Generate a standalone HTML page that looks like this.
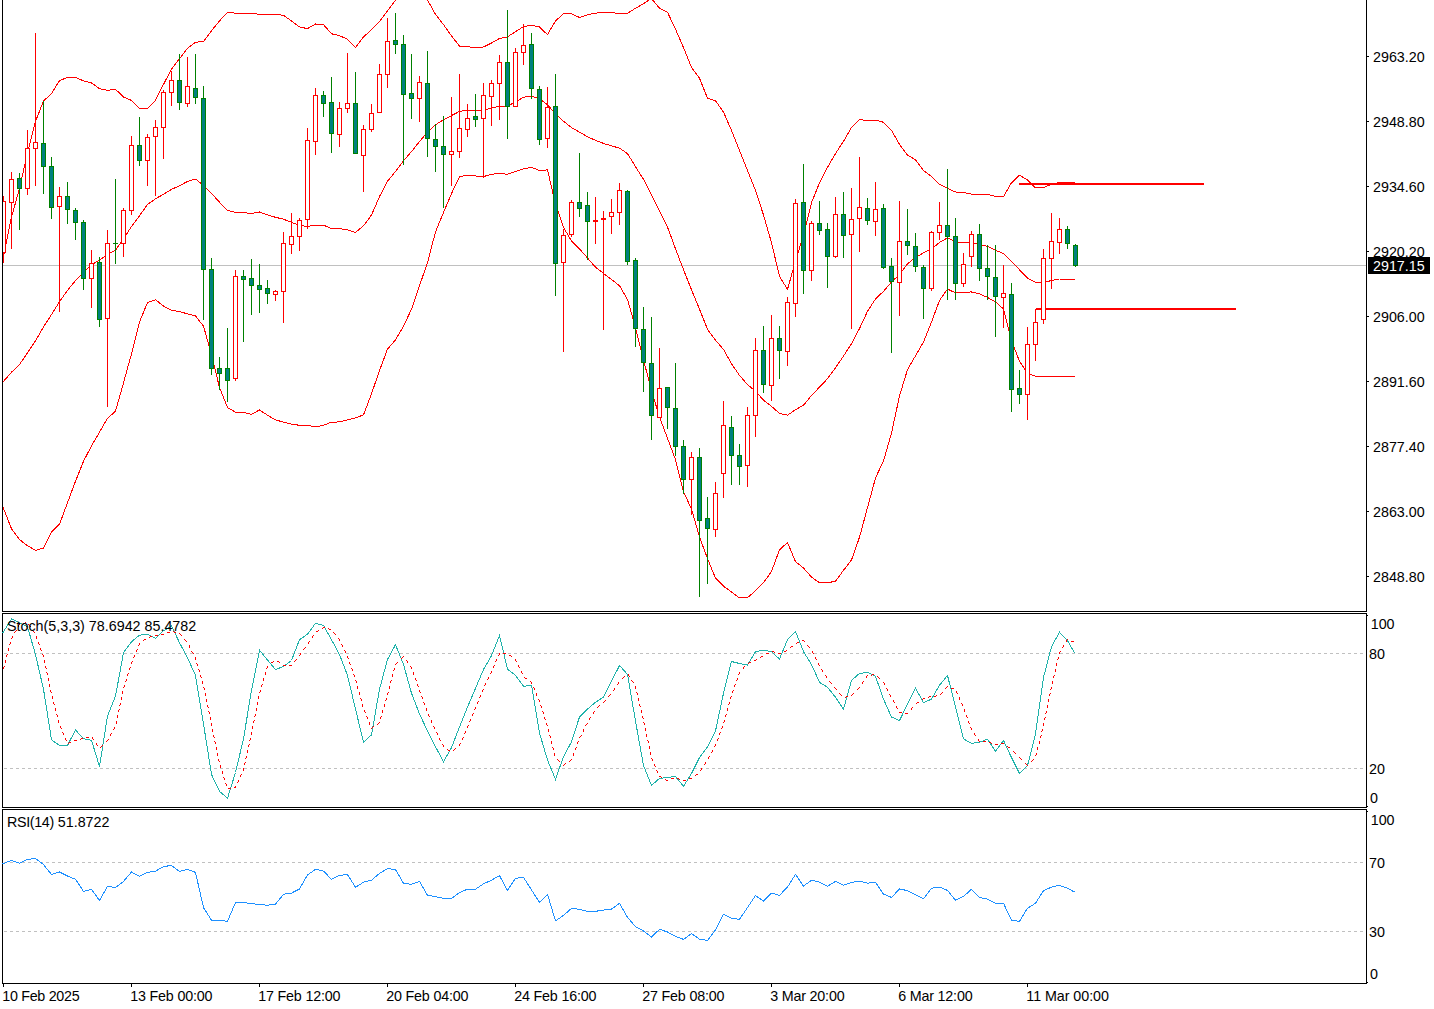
<!DOCTYPE html>
<html><head><meta charset="utf-8"><title>Chart</title>
<style>html,body{margin:0;padding:0;background:#fff;}body{width:1434px;height:1009px;overflow:hidden;position:relative;font-family:"Liberation Sans",sans-serif;}svg{position:absolute;left:0;top:0;display:block}text{font-family:"Liberation Sans",sans-serif;font-size:14.3px;fill:#000}.ax{font-size:14.3px}</style></head><body>
<svg width="1434" height="1009" viewBox="0 0 1434 1009">
<rect x="0" y="0" width="1434" height="1009" fill="#fff"/>
<g shape-rendering="crispEdges" fill="#000">
<rect x="2" y="0" width="1" height="612"/>
<rect x="2" y="613" width="1" height="195"/>
<rect x="2" y="809" width="1" height="175"/>
<rect x="1366" y="0" width="1" height="612"/>
<rect x="1366" y="613" width="1" height="195"/>
<rect x="1366" y="809" width="1" height="175"/>
<rect x="2" y="611" width="1365" height="1"/>
<rect x="2" y="613" width="1365" height="1"/>
<rect x="2" y="807" width="1365" height="1"/>
<rect x="2" y="809" width="1365" height="1"/>
<rect x="2" y="983" width="1365" height="1"/>
<rect x="1367" y="56" width="2" height="1"/>
<rect x="1367" y="121" width="2" height="1"/>
<rect x="1367" y="186" width="2" height="1"/>
<rect x="1367" y="251" width="2" height="1"/>
<rect x="1367" y="316" width="2" height="1"/>
<rect x="1367" y="381" width="2" height="1"/>
<rect x="1367" y="446" width="2" height="1"/>
<rect x="1367" y="511" width="2" height="1"/>
<rect x="1367" y="576" width="2" height="1"/>
<rect x="1367" y="615" width="1" height="1"/>
<rect x="1367" y="806" width="1" height="1"/>
<rect x="1367" y="811" width="1" height="1"/>
<rect x="1367" y="982" width="1" height="1"/>
<rect x="3" y="984" width="1" height="3"/>
<rect x="131" y="984" width="1" height="3"/>
<rect x="259" y="984" width="1" height="3"/>
<rect x="387" y="984" width="1" height="3"/>
<rect x="515" y="984" width="1" height="3"/>
<rect x="643" y="984" width="1" height="3"/>
<rect x="771" y="984" width="1" height="3"/>
<rect x="899" y="984" width="1" height="3"/>
<rect x="1027" y="984" width="1" height="3"/>
</g>
<g shape-rendering="crispEdges">
<rect x="3" y="265" width="1363" height="1" fill="#c0c0c0"/>
<line x1="4" y1="653.5" x2="1366" y2="653.5" stroke="#c0c0c0" stroke-width="1" stroke-dasharray="3 3"/>
<line x1="4" y1="768.5" x2="1366" y2="768.5" stroke="#c0c0c0" stroke-width="1" stroke-dasharray="3 3"/>
<line x1="4" y1="862.5" x2="1366" y2="862.5" stroke="#c0c0c0" stroke-width="1" stroke-dasharray="3 3"/>
<line x1="4" y1="931.5" x2="1366" y2="931.5" stroke="#c0c0c0" stroke-width="1" stroke-dasharray="3 3"/>
</g>
<defs><clipPath id="cp"><rect x="3" y="0" width="1363" height="611"/></clipPath></defs>
<g clip-path="url(#cp)">
<g shape-rendering="crispEdges">
<polyline points="2.5,260.9 11.5,217.0 19.5,188.5 27.5,152.5 35.5,121.4 43.5,101.1 51.5,93.5 59.5,80.6 67.5,77.4 75.5,77.4 83.5,80.9 91.5,83.0 99.5,88.6 107.5,90.4 115.5,89.3 123.5,97.0 131.5,100.4 139.5,108.4 147.5,108.4 155.5,100.2 163.5,84.4 171.5,69.1 179.5,58.7 187.5,48.2 195.5,42.3 203.5,41.5 211.5,30.7 219.5,20.9 227.5,12.3 235.5,13.2 243.5,13.5 251.5,13.8 259.5,14.1 267.5,14.1 275.5,14.1 283.5,15.4 291.5,20.9 299.5,27.0 307.5,28.6 315.5,24.0 323.5,24.6 331.5,33.8 339.5,35.6 347.5,39.3 355.5,47.6 363.5,36.9 371.5,29.8 379.5,21.5 387.5,10.8 395.5,0.0 403.5,-12.0 411.5,-18.0 419.5,-12.0 427.5,0.0 435.5,14.4 443.5,24.6 451.5,35.9 459.5,46.1 467.5,46.7 475.5,47.6 483.5,47.0 491.5,43.0 499.5,38.4 507.5,36.9 515.5,31.6 523.5,26.7 531.5,25.2 539.5,27.0 547.5,34.7 555.5,20.9 563.5,13.8 571.5,13.8 579.5,17.5 587.5,14.7 595.5,13.2 603.5,12.3 611.5,12.3 619.5,13.8 627.5,13.2 635.5,8.3 643.5,3.7 651.5,-1.5 659.5,8.2 667.5,12.3 675.5,29.2 683.5,47.6 691.5,67.6 699.5,78.3 707.5,98.3 715.5,100.7 723.5,112.1 731.5,130.5 739.5,150.5 747.5,170.5 755.5,190.4 763.5,215.0 771.5,242.7 779.5,276.4 787.5,289.3 795.5,261.1 803.5,235.0 811.5,202.7 819.5,182.8 827.5,167.4 835.5,153.6 843.5,141.3 851.5,127.5 859.5,119.2 867.5,121.0 875.5,120.1 883.5,122.3 891.5,130.5 899.5,144.4 907.5,155.1 915.5,159.7 923.5,170.5 931.5,176.6 939.5,184.3 947.5,188.3 955.5,192.0 963.5,192.6 971.5,194.1 979.5,195.0 987.5,194.4 995.5,196.3 1003.5,196.6 1011.5,182.8 1019.5,175.1 1027.5,180.0 1035.5,187.8 1043.5,187.5 1051.5,184.2 1059.5,182.6 1067.5,182.5 1074.5,182.5" fill="none" stroke="#ff0000" stroke-width="1" />
<polyline points="2.5,382.5 11.5,372.2 19.5,364.5 27.5,352.8 35.5,340.9 43.5,327.0 51.5,314.5 59.5,301.7 67.5,290.4 75.5,280.6 83.5,272.5 91.5,264.6 99.5,260.2 107.5,254.5 115.5,250.1 123.5,239.0 131.5,226.4 139.5,215.7 147.5,204.6 155.5,198.7 163.5,194.3 171.5,189.3 179.5,185.8 187.5,181.4 195.5,179.1 203.5,185.2 211.5,193.4 219.5,202.2 227.5,210.4 235.5,212.3 243.5,212.6 251.5,213.5 259.5,212.0 267.5,214.8 275.5,217.3 283.5,219.2 291.5,222.3 299.5,225.5 307.5,226.4 315.5,225.2 323.5,225.2 331.5,228.6 339.5,228.6 347.5,229.9 355.5,232.5 363.5,225.8 371.5,215.0 379.5,196.6 387.5,181.2 395.5,171.5 403.5,160.8 411.5,151.6 419.5,141.5 427.5,132.3 435.5,124.8 443.5,119.8 451.5,115.6 459.5,111.4 467.5,110.0 475.5,111.0 483.5,110.5 491.5,108.0 499.5,106.4 507.5,105.9 515.5,102.2 523.5,97.2 531.5,96.3 539.5,98.8 547.5,104.7 555.5,113.9 563.5,121.3 571.5,127.5 579.5,132.1 587.5,136.7 595.5,140.4 603.5,143.4 611.5,145.9 619.5,148.1 627.5,153.6 635.5,166.7 643.5,179.3 651.5,195.2 659.5,211.1 667.5,227.0 675.5,248.8 683.5,269.7 691.5,289.8 699.5,309.2 707.5,329.3 715.5,340.2 723.5,349.4 731.5,363.7 739.5,375.4 747.5,384.6 755.5,391.3 763.5,400.2 771.5,406.4 779.5,413.4 787.5,415.2 795.5,409.7 803.5,405.2 811.5,395.5 819.5,387.1 827.5,378.7 835.5,367.8 843.5,356.1 851.5,343.6 859.5,328.5 867.5,311.3 875.5,299.0 883.5,291.3 891.5,282.1 899.5,274.4 907.5,263.7 915.5,257.5 923.5,252.9 931.5,249.0 939.5,242.5 947.5,237.8 955.5,241.9 963.5,242.2 971.5,242.2 979.5,244.7 987.5,246.4 995.5,250.3 1003.5,253.6 1011.5,261.4 1019.5,269.8 1027.5,278.2 1035.5,282.4 1043.5,282.6 1051.5,280.5 1059.5,279.0 1067.5,279.0 1074.5,279.0" fill="none" stroke="#ff0000" stroke-width="1" />
<polyline points="2.5,505.7 11.5,528.8 19.5,539.6 27.5,545.7 35.5,550.3 43.5,548.2 51.5,531.9 59.5,524.2 67.5,502.7 75.5,481.2 83.5,461.3 91.5,445.9 99.5,432.1 107.5,418.3 115.5,411.2 123.5,382.9 131.5,353.8 139.5,322.0 147.5,302.5 155.5,299.7 163.5,306.1 171.5,310.1 179.5,311.7 187.5,313.8 195.5,316.0 203.5,326.1 211.5,355.0 219.5,387.5 227.5,407.5 235.5,412.1 243.5,412.4 251.5,414.3 259.5,410.0 267.5,415.2 275.5,419.8 283.5,422.2 291.5,424.1 299.5,425.3 307.5,425.3 315.5,426.9 323.5,425.3 331.5,422.2 339.5,421.9 347.5,419.8 355.5,417.8 363.5,414.9 371.5,393.7 379.5,370.6 387.5,349.1 395.5,339.9 403.5,326.1 411.5,309.2 419.5,285.7 427.5,262.6 435.5,231.9 443.5,212.6 451.5,193.5 459.5,176.6 467.5,175.1 475.5,176.0 483.5,176.6 491.5,174.2 499.5,173.5 507.5,174.2 515.5,171.4 523.5,168.9 531.5,167.4 539.5,170.5 547.5,169.9 555.5,204.3 563.5,227.3 571.5,241.1 579.5,248.8 587.5,258.0 595.5,267.2 603.5,273.4 611.5,279.5 619.5,285.7 627.5,299.5 635.5,327.6 643.5,359.9 651.5,390.6 659.5,417.0 667.5,438.2 675.5,459.7 683.5,491.8 691.5,509.0 699.5,537.0 707.5,558.5 715.5,578.2 723.5,586.2 731.5,591.9 739.5,598.0 747.5,597.6 755.5,590.8 763.5,582.8 771.5,571.4 779.5,549.8 787.5,542.5 795.5,561.6 803.5,568.0 811.5,577.1 819.5,582.8 827.5,582.8 835.5,581.2 843.5,570.3 851.5,560.0 859.5,537.2 867.5,507.6 875.5,478.0 883.5,460.9 891.5,433.0 899.5,396.0 907.5,369.6 915.5,355.8 923.5,342.0 931.5,322.0 939.5,300.5 947.5,289.0 955.5,292.9 963.5,292.1 971.5,292.0 979.5,293.8 987.5,297.4 995.5,301.9 1003.5,309.0 1011.5,341.0 1019.5,361.2 1027.5,373.4 1035.5,376.2 1043.5,376.2 1051.5,376.2 1059.5,376.2 1067.5,376.2 1074.5,376.2" fill="none" stroke="#ff0000" stroke-width="1" />
</g>
<g shape-rendering="crispEdges" fill="#ff0000">
<rect x="1019" y="183" width="185" height="2"/>
<rect x="1036" y="308" width="200" height="2"/>
</g>
<g shape-rendering="crispEdges">
<rect x="3" y="196" width="1" height="67" fill="#ff0000"/>
<rect x="1" y="201" width="5" height="52" fill="#ff0000"/>
<rect x="2" y="202" width="3" height="50" fill="#fff"/>
<rect x="11" y="172" width="1" height="77" fill="#ff0000"/>
<rect x="9" y="179" width="5" height="24" fill="#ff0000"/>
<rect x="10" y="180" width="3" height="22" fill="#fff"/>
<rect x="19" y="173" width="1" height="57" fill="#008000"/>
<rect x="17" y="178" width="5" height="11" fill="#008000"/>
<rect x="18" y="179" width="3" height="9" fill="#008080"/>
<rect x="27" y="130" width="1" height="65" fill="#ff0000"/>
<rect x="25" y="148" width="5" height="41" fill="#ff0000"/>
<rect x="26" y="149" width="3" height="39" fill="#fff"/>
<rect x="35" y="33" width="1" height="153" fill="#ff0000"/>
<rect x="33" y="142" width="5" height="7" fill="#ff0000"/>
<rect x="34" y="143" width="3" height="5" fill="#fff"/>
<rect x="43" y="101" width="1" height="93" fill="#008000"/>
<rect x="41" y="143" width="5" height="24" fill="#008000"/>
<rect x="42" y="144" width="3" height="22" fill="#008080"/>
<rect x="51" y="157" width="1" height="62" fill="#008000"/>
<rect x="49" y="166" width="5" height="42" fill="#008000"/>
<rect x="50" y="167" width="3" height="40" fill="#008080"/>
<rect x="59" y="187" width="1" height="125" fill="#ff0000"/>
<rect x="57" y="196" width="5" height="11" fill="#ff0000"/>
<rect x="58" y="197" width="3" height="9" fill="#fff"/>
<rect x="67" y="182" width="1" height="42" fill="#008000"/>
<rect x="65" y="196" width="5" height="14" fill="#008000"/>
<rect x="66" y="197" width="3" height="12" fill="#008080"/>
<rect x="75" y="208" width="1" height="32" fill="#008000"/>
<rect x="73" y="210" width="5" height="13" fill="#008000"/>
<rect x="74" y="211" width="3" height="11" fill="#008080"/>
<rect x="83" y="220" width="1" height="70" fill="#008000"/>
<rect x="81" y="222" width="5" height="57" fill="#008000"/>
<rect x="82" y="223" width="3" height="55" fill="#008080"/>
<rect x="91" y="250" width="1" height="58" fill="#ff0000"/>
<rect x="89" y="263" width="5" height="16" fill="#ff0000"/>
<rect x="90" y="264" width="3" height="14" fill="#fff"/>
<rect x="99" y="257" width="1" height="70" fill="#008000"/>
<rect x="97" y="262" width="5" height="58" fill="#008000"/>
<rect x="98" y="263" width="3" height="56" fill="#008080"/>
<rect x="107" y="230" width="1" height="177" fill="#ff0000"/>
<rect x="105" y="243" width="5" height="76" fill="#ff0000"/>
<rect x="106" y="244" width="3" height="74" fill="#fff"/>
<rect x="115" y="179" width="1" height="85" fill="#008000"/>
<rect x="113" y="243" width="5" height="1" fill="#008000"/>
<rect x="123" y="208" width="1" height="49" fill="#ff0000"/>
<rect x="121" y="210" width="5" height="34" fill="#ff0000"/>
<rect x="122" y="211" width="3" height="32" fill="#fff"/>
<rect x="131" y="136" width="1" height="79" fill="#ff0000"/>
<rect x="129" y="145" width="5" height="66" fill="#ff0000"/>
<rect x="130" y="146" width="3" height="64" fill="#fff"/>
<rect x="139" y="117" width="1" height="49" fill="#008000"/>
<rect x="137" y="145" width="5" height="16" fill="#008000"/>
<rect x="138" y="146" width="3" height="14" fill="#008080"/>
<rect x="147" y="134" width="1" height="52" fill="#ff0000"/>
<rect x="145" y="137" width="5" height="24" fill="#ff0000"/>
<rect x="146" y="138" width="3" height="22" fill="#fff"/>
<rect x="155" y="120" width="1" height="76" fill="#ff0000"/>
<rect x="153" y="127" width="5" height="10" fill="#ff0000"/>
<rect x="154" y="128" width="3" height="8" fill="#fff"/>
<rect x="163" y="90" width="1" height="69" fill="#ff0000"/>
<rect x="161" y="92" width="5" height="36" fill="#ff0000"/>
<rect x="162" y="93" width="3" height="34" fill="#fff"/>
<rect x="171" y="71" width="1" height="35" fill="#ff0000"/>
<rect x="169" y="80" width="5" height="13" fill="#ff0000"/>
<rect x="170" y="81" width="3" height="11" fill="#fff"/>
<rect x="179" y="54" width="1" height="56" fill="#008000"/>
<rect x="177" y="80" width="5" height="23" fill="#008000"/>
<rect x="178" y="81" width="3" height="21" fill="#008080"/>
<rect x="187" y="57" width="1" height="50" fill="#ff0000"/>
<rect x="185" y="86" width="5" height="18" fill="#ff0000"/>
<rect x="186" y="87" width="3" height="16" fill="#fff"/>
<rect x="195" y="54" width="1" height="50" fill="#008000"/>
<rect x="193" y="88" width="5" height="10" fill="#008000"/>
<rect x="194" y="89" width="3" height="8" fill="#008080"/>
<rect x="203" y="86" width="1" height="234" fill="#008000"/>
<rect x="201" y="98" width="5" height="172" fill="#008000"/>
<rect x="202" y="99" width="3" height="170" fill="#008080"/>
<rect x="211" y="258" width="1" height="117" fill="#008000"/>
<rect x="209" y="269" width="5" height="100" fill="#008000"/>
<rect x="210" y="270" width="3" height="98" fill="#008080"/>
<rect x="219" y="357" width="1" height="33" fill="#008000"/>
<rect x="217" y="368" width="5" height="6" fill="#008000"/>
<rect x="218" y="369" width="3" height="4" fill="#008080"/>
<rect x="227" y="328" width="1" height="74" fill="#008000"/>
<rect x="225" y="368" width="5" height="13" fill="#008000"/>
<rect x="226" y="369" width="3" height="11" fill="#008080"/>
<rect x="235" y="270" width="1" height="111" fill="#ff0000"/>
<rect x="233" y="276" width="5" height="103" fill="#ff0000"/>
<rect x="234" y="277" width="3" height="101" fill="#fff"/>
<rect x="243" y="270" width="1" height="72" fill="#008000"/>
<rect x="241" y="276" width="5" height="4" fill="#008000"/>
<rect x="242" y="277" width="3" height="2" fill="#008080"/>
<rect x="251" y="259" width="1" height="56" fill="#008000"/>
<rect x="249" y="278" width="5" height="8" fill="#008000"/>
<rect x="250" y="279" width="3" height="6" fill="#008080"/>
<rect x="259" y="264" width="1" height="49" fill="#008000"/>
<rect x="257" y="285" width="5" height="5" fill="#008000"/>
<rect x="258" y="286" width="3" height="3" fill="#008080"/>
<rect x="267" y="280" width="1" height="24" fill="#008000"/>
<rect x="265" y="288" width="5" height="6" fill="#008000"/>
<rect x="266" y="289" width="3" height="4" fill="#008080"/>
<rect x="275" y="290" width="1" height="11" fill="#ff0000"/>
<rect x="273" y="291" width="5" height="4" fill="#ff0000"/>
<rect x="274" y="292" width="3" height="2" fill="#fff"/>
<rect x="283" y="232" width="1" height="91" fill="#ff0000"/>
<rect x="281" y="243" width="5" height="49" fill="#ff0000"/>
<rect x="282" y="244" width="3" height="47" fill="#fff"/>
<rect x="291" y="213" width="1" height="41" fill="#ff0000"/>
<rect x="289" y="236" width="5" height="9" fill="#ff0000"/>
<rect x="290" y="237" width="3" height="7" fill="#fff"/>
<rect x="299" y="218" width="1" height="33" fill="#ff0000"/>
<rect x="297" y="220" width="5" height="17" fill="#ff0000"/>
<rect x="298" y="221" width="3" height="15" fill="#fff"/>
<rect x="307" y="128" width="1" height="101" fill="#ff0000"/>
<rect x="305" y="140" width="5" height="80" fill="#ff0000"/>
<rect x="306" y="141" width="3" height="78" fill="#fff"/>
<rect x="315" y="88" width="1" height="67" fill="#ff0000"/>
<rect x="313" y="95" width="5" height="47" fill="#ff0000"/>
<rect x="314" y="96" width="3" height="45" fill="#fff"/>
<rect x="323" y="91" width="1" height="26" fill="#008000"/>
<rect x="321" y="95" width="5" height="9" fill="#008000"/>
<rect x="322" y="96" width="3" height="7" fill="#008080"/>
<rect x="331" y="77" width="1" height="76" fill="#008000"/>
<rect x="329" y="102" width="5" height="32" fill="#008000"/>
<rect x="330" y="103" width="3" height="30" fill="#008080"/>
<rect x="339" y="102" width="1" height="45" fill="#ff0000"/>
<rect x="337" y="108" width="5" height="27" fill="#ff0000"/>
<rect x="338" y="109" width="3" height="25" fill="#fff"/>
<rect x="347" y="53" width="1" height="60" fill="#ff0000"/>
<rect x="345" y="103" width="5" height="6" fill="#ff0000"/>
<rect x="346" y="104" width="3" height="4" fill="#fff"/>
<rect x="355" y="72" width="1" height="82" fill="#008000"/>
<rect x="353" y="103" width="5" height="51" fill="#008000"/>
<rect x="354" y="104" width="3" height="49" fill="#008080"/>
<rect x="363" y="125" width="1" height="67" fill="#ff0000"/>
<rect x="361" y="129" width="5" height="27" fill="#ff0000"/>
<rect x="362" y="130" width="3" height="25" fill="#fff"/>
<rect x="371" y="104" width="1" height="28" fill="#ff0000"/>
<rect x="369" y="113" width="5" height="17" fill="#ff0000"/>
<rect x="370" y="114" width="3" height="15" fill="#fff"/>
<rect x="379" y="64" width="1" height="49" fill="#ff0000"/>
<rect x="377" y="74" width="5" height="39" fill="#ff0000"/>
<rect x="378" y="75" width="3" height="37" fill="#fff"/>
<rect x="387" y="18" width="1" height="70" fill="#ff0000"/>
<rect x="385" y="41" width="5" height="34" fill="#ff0000"/>
<rect x="386" y="42" width="3" height="32" fill="#fff"/>
<rect x="395" y="13" width="1" height="41" fill="#008000"/>
<rect x="393" y="40" width="5" height="5" fill="#008000"/>
<rect x="394" y="41" width="3" height="3" fill="#008080"/>
<rect x="403" y="35" width="1" height="130" fill="#008000"/>
<rect x="401" y="44" width="5" height="51" fill="#008000"/>
<rect x="402" y="45" width="3" height="49" fill="#008080"/>
<rect x="411" y="54" width="1" height="65" fill="#008000"/>
<rect x="409" y="93" width="5" height="6" fill="#008000"/>
<rect x="410" y="94" width="3" height="4" fill="#008080"/>
<rect x="419" y="76" width="1" height="46" fill="#ff0000"/>
<rect x="417" y="82" width="5" height="17" fill="#ff0000"/>
<rect x="418" y="83" width="3" height="15" fill="#fff"/>
<rect x="427" y="51" width="1" height="106" fill="#008000"/>
<rect x="425" y="83" width="5" height="56" fill="#008000"/>
<rect x="426" y="84" width="3" height="54" fill="#008080"/>
<rect x="435" y="124" width="1" height="48" fill="#008000"/>
<rect x="433" y="139" width="5" height="8" fill="#008000"/>
<rect x="434" y="140" width="3" height="6" fill="#008080"/>
<rect x="443" y="116" width="1" height="92" fill="#008000"/>
<rect x="441" y="146" width="5" height="9" fill="#008000"/>
<rect x="442" y="147" width="3" height="7" fill="#008080"/>
<rect x="451" y="97" width="1" height="89" fill="#ff0000"/>
<rect x="449" y="151" width="5" height="4" fill="#ff0000"/>
<rect x="450" y="152" width="3" height="2" fill="#fff"/>
<rect x="459" y="74" width="1" height="84" fill="#ff0000"/>
<rect x="457" y="128" width="5" height="24" fill="#ff0000"/>
<rect x="458" y="129" width="3" height="22" fill="#fff"/>
<rect x="467" y="104" width="1" height="33" fill="#ff0000"/>
<rect x="465" y="118" width="5" height="12" fill="#ff0000"/>
<rect x="466" y="119" width="3" height="10" fill="#fff"/>
<rect x="475" y="94" width="1" height="33" fill="#008000"/>
<rect x="473" y="116" width="5" height="4" fill="#008000"/>
<rect x="474" y="117" width="3" height="2" fill="#008080"/>
<rect x="483" y="83" width="1" height="95" fill="#ff0000"/>
<rect x="481" y="95" width="5" height="24" fill="#ff0000"/>
<rect x="482" y="96" width="3" height="22" fill="#fff"/>
<rect x="491" y="80" width="1" height="46" fill="#ff0000"/>
<rect x="489" y="83" width="5" height="14" fill="#ff0000"/>
<rect x="490" y="84" width="3" height="12" fill="#fff"/>
<rect x="499" y="55" width="1" height="65" fill="#ff0000"/>
<rect x="497" y="62" width="5" height="22" fill="#ff0000"/>
<rect x="498" y="63" width="3" height="20" fill="#fff"/>
<rect x="507" y="10" width="1" height="129" fill="#008000"/>
<rect x="505" y="62" width="5" height="45" fill="#008000"/>
<rect x="506" y="63" width="3" height="43" fill="#008080"/>
<rect x="515" y="48" width="1" height="59" fill="#ff0000"/>
<rect x="513" y="52" width="5" height="55" fill="#ff0000"/>
<rect x="514" y="53" width="3" height="53" fill="#fff"/>
<rect x="523" y="24" width="1" height="41" fill="#ff0000"/>
<rect x="521" y="45" width="5" height="8" fill="#ff0000"/>
<rect x="522" y="46" width="3" height="6" fill="#fff"/>
<rect x="531" y="33" width="1" height="66" fill="#008000"/>
<rect x="529" y="44" width="5" height="45" fill="#008000"/>
<rect x="530" y="45" width="3" height="43" fill="#008080"/>
<rect x="539" y="86" width="1" height="59" fill="#008000"/>
<rect x="537" y="89" width="5" height="51" fill="#008000"/>
<rect x="538" y="90" width="3" height="49" fill="#008080"/>
<rect x="547" y="87" width="1" height="61" fill="#ff0000"/>
<rect x="545" y="107" width="5" height="32" fill="#ff0000"/>
<rect x="546" y="108" width="3" height="30" fill="#fff"/>
<rect x="555" y="74" width="1" height="222" fill="#008000"/>
<rect x="553" y="106" width="5" height="158" fill="#008000"/>
<rect x="554" y="107" width="3" height="156" fill="#008080"/>
<rect x="563" y="229" width="1" height="123" fill="#ff0000"/>
<rect x="561" y="235" width="5" height="28" fill="#ff0000"/>
<rect x="562" y="236" width="3" height="26" fill="#fff"/>
<rect x="571" y="200" width="1" height="37" fill="#ff0000"/>
<rect x="569" y="202" width="5" height="33" fill="#ff0000"/>
<rect x="570" y="203" width="3" height="31" fill="#fff"/>
<rect x="579" y="153" width="1" height="64" fill="#008000"/>
<rect x="577" y="202" width="5" height="7" fill="#008000"/>
<rect x="578" y="203" width="3" height="5" fill="#008080"/>
<rect x="587" y="192" width="1" height="68" fill="#008000"/>
<rect x="585" y="205" width="5" height="17" fill="#008000"/>
<rect x="586" y="206" width="3" height="15" fill="#008080"/>
<rect x="595" y="197" width="1" height="47" fill="#ff0000"/>
<rect x="593" y="220" width="5" height="2" fill="#ff0000"/>
<rect x="603" y="211" width="1" height="119" fill="#ff0000"/>
<rect x="601" y="218" width="5" height="2" fill="#ff0000"/>
<rect x="611" y="199" width="1" height="35" fill="#ff0000"/>
<rect x="609" y="212" width="5" height="5" fill="#ff0000"/>
<rect x="610" y="213" width="3" height="3" fill="#fff"/>
<rect x="619" y="183" width="1" height="42" fill="#ff0000"/>
<rect x="617" y="190" width="5" height="23" fill="#ff0000"/>
<rect x="618" y="191" width="3" height="21" fill="#fff"/>
<rect x="627" y="190" width="1" height="75" fill="#008000"/>
<rect x="625" y="191" width="5" height="71" fill="#008000"/>
<rect x="626" y="192" width="3" height="69" fill="#008080"/>
<rect x="635" y="258" width="1" height="89" fill="#008000"/>
<rect x="633" y="260" width="5" height="69" fill="#008000"/>
<rect x="634" y="261" width="3" height="67" fill="#008080"/>
<rect x="643" y="307" width="1" height="85" fill="#008000"/>
<rect x="641" y="329" width="5" height="34" fill="#008000"/>
<rect x="642" y="330" width="3" height="32" fill="#008080"/>
<rect x="651" y="317" width="1" height="123" fill="#008000"/>
<rect x="649" y="363" width="5" height="53" fill="#008000"/>
<rect x="650" y="364" width="3" height="51" fill="#008080"/>
<rect x="659" y="348" width="1" height="70" fill="#ff0000"/>
<rect x="657" y="388" width="5" height="30" fill="#ff0000"/>
<rect x="658" y="389" width="3" height="28" fill="#fff"/>
<rect x="667" y="387" width="1" height="42" fill="#008000"/>
<rect x="665" y="387" width="5" height="21" fill="#008000"/>
<rect x="666" y="388" width="3" height="19" fill="#008080"/>
<rect x="675" y="363" width="1" height="93" fill="#008000"/>
<rect x="673" y="408" width="5" height="39" fill="#008000"/>
<rect x="674" y="409" width="3" height="37" fill="#008080"/>
<rect x="683" y="440" width="1" height="54" fill="#008000"/>
<rect x="681" y="446" width="5" height="34" fill="#008000"/>
<rect x="682" y="447" width="3" height="32" fill="#008080"/>
<rect x="691" y="452" width="1" height="63" fill="#ff0000"/>
<rect x="689" y="457" width="5" height="23" fill="#ff0000"/>
<rect x="690" y="458" width="3" height="21" fill="#fff"/>
<rect x="699" y="448" width="1" height="149" fill="#008000"/>
<rect x="697" y="457" width="5" height="64" fill="#008000"/>
<rect x="698" y="458" width="3" height="62" fill="#008080"/>
<rect x="707" y="497" width="1" height="87" fill="#008000"/>
<rect x="705" y="518" width="5" height="11" fill="#008000"/>
<rect x="706" y="519" width="3" height="9" fill="#008080"/>
<rect x="715" y="482" width="1" height="55" fill="#ff0000"/>
<rect x="713" y="493" width="5" height="37" fill="#ff0000"/>
<rect x="714" y="494" width="3" height="35" fill="#fff"/>
<rect x="723" y="401" width="1" height="97" fill="#ff0000"/>
<rect x="721" y="425" width="5" height="49" fill="#ff0000"/>
<rect x="722" y="426" width="3" height="47" fill="#fff"/>
<rect x="731" y="416" width="1" height="69" fill="#008000"/>
<rect x="729" y="427" width="5" height="29" fill="#008000"/>
<rect x="730" y="428" width="3" height="27" fill="#008080"/>
<rect x="739" y="444" width="1" height="41" fill="#008000"/>
<rect x="737" y="455" width="5" height="12" fill="#008000"/>
<rect x="738" y="456" width="3" height="10" fill="#008080"/>
<rect x="747" y="407" width="1" height="80" fill="#ff0000"/>
<rect x="745" y="415" width="5" height="51" fill="#ff0000"/>
<rect x="746" y="416" width="3" height="49" fill="#fff"/>
<rect x="755" y="338" width="1" height="99" fill="#ff0000"/>
<rect x="753" y="350" width="5" height="66" fill="#ff0000"/>
<rect x="754" y="351" width="3" height="64" fill="#fff"/>
<rect x="763" y="326" width="1" height="67" fill="#008000"/>
<rect x="761" y="350" width="5" height="35" fill="#008000"/>
<rect x="762" y="351" width="3" height="33" fill="#008080"/>
<rect x="771" y="315" width="1" height="86" fill="#ff0000"/>
<rect x="769" y="338" width="5" height="48" fill="#ff0000"/>
<rect x="770" y="339" width="3" height="46" fill="#fff"/>
<rect x="779" y="326" width="1" height="53" fill="#008000"/>
<rect x="777" y="338" width="5" height="13" fill="#008000"/>
<rect x="778" y="339" width="3" height="11" fill="#008080"/>
<rect x="787" y="297" width="1" height="69" fill="#ff0000"/>
<rect x="785" y="302" width="5" height="50" fill="#ff0000"/>
<rect x="786" y="303" width="3" height="48" fill="#fff"/>
<rect x="795" y="199" width="1" height="118" fill="#ff0000"/>
<rect x="793" y="203" width="5" height="101" fill="#ff0000"/>
<rect x="794" y="204" width="3" height="99" fill="#fff"/>
<rect x="803" y="164" width="1" height="130" fill="#008000"/>
<rect x="801" y="202" width="5" height="69" fill="#008000"/>
<rect x="802" y="203" width="3" height="67" fill="#008080"/>
<rect x="811" y="221" width="1" height="60" fill="#ff0000"/>
<rect x="809" y="223" width="5" height="48" fill="#ff0000"/>
<rect x="810" y="224" width="3" height="46" fill="#fff"/>
<rect x="819" y="201" width="1" height="34" fill="#008000"/>
<rect x="817" y="223" width="5" height="8" fill="#008000"/>
<rect x="818" y="224" width="3" height="6" fill="#008080"/>
<rect x="827" y="223" width="1" height="65" fill="#008000"/>
<rect x="825" y="229" width="5" height="28" fill="#008000"/>
<rect x="826" y="230" width="3" height="26" fill="#008080"/>
<rect x="835" y="197" width="1" height="61" fill="#ff0000"/>
<rect x="833" y="214" width="5" height="43" fill="#ff0000"/>
<rect x="834" y="215" width="3" height="41" fill="#fff"/>
<rect x="843" y="192" width="1" height="66" fill="#008000"/>
<rect x="841" y="214" width="5" height="22" fill="#008000"/>
<rect x="842" y="215" width="3" height="20" fill="#008080"/>
<rect x="851" y="188" width="1" height="141" fill="#ff0000"/>
<rect x="849" y="219" width="5" height="16" fill="#ff0000"/>
<rect x="850" y="220" width="3" height="14" fill="#fff"/>
<rect x="859" y="157" width="1" height="95" fill="#ff0000"/>
<rect x="857" y="207" width="5" height="12" fill="#ff0000"/>
<rect x="858" y="208" width="3" height="10" fill="#fff"/>
<rect x="867" y="198" width="1" height="27" fill="#008000"/>
<rect x="865" y="208" width="5" height="13" fill="#008000"/>
<rect x="866" y="209" width="3" height="11" fill="#008080"/>
<rect x="875" y="182" width="1" height="54" fill="#ff0000"/>
<rect x="873" y="209" width="5" height="13" fill="#ff0000"/>
<rect x="874" y="210" width="3" height="11" fill="#fff"/>
<rect x="883" y="204" width="1" height="65" fill="#008000"/>
<rect x="881" y="208" width="5" height="60" fill="#008000"/>
<rect x="882" y="209" width="3" height="58" fill="#008080"/>
<rect x="891" y="258" width="1" height="95" fill="#008000"/>
<rect x="889" y="266" width="5" height="16" fill="#008000"/>
<rect x="890" y="267" width="3" height="14" fill="#008080"/>
<rect x="899" y="201" width="1" height="115" fill="#ff0000"/>
<rect x="897" y="241" width="5" height="42" fill="#ff0000"/>
<rect x="898" y="242" width="3" height="40" fill="#fff"/>
<rect x="907" y="209" width="1" height="46" fill="#008000"/>
<rect x="905" y="241" width="5" height="5" fill="#008000"/>
<rect x="906" y="242" width="3" height="3" fill="#008080"/>
<rect x="915" y="233" width="1" height="39" fill="#008000"/>
<rect x="913" y="246" width="5" height="21" fill="#008000"/>
<rect x="914" y="247" width="3" height="19" fill="#008080"/>
<rect x="923" y="265" width="1" height="54" fill="#008000"/>
<rect x="921" y="267" width="5" height="22" fill="#008000"/>
<rect x="922" y="268" width="3" height="20" fill="#008080"/>
<rect x="931" y="231" width="1" height="60" fill="#ff0000"/>
<rect x="929" y="232" width="5" height="57" fill="#ff0000"/>
<rect x="930" y="233" width="3" height="55" fill="#fff"/>
<rect x="939" y="202" width="1" height="38" fill="#ff0000"/>
<rect x="937" y="225" width="5" height="8" fill="#ff0000"/>
<rect x="938" y="226" width="3" height="6" fill="#fff"/>
<rect x="947" y="169" width="1" height="131" fill="#008000"/>
<rect x="945" y="225" width="5" height="12" fill="#008000"/>
<rect x="946" y="226" width="3" height="10" fill="#008080"/>
<rect x="955" y="218" width="1" height="82" fill="#008000"/>
<rect x="953" y="236" width="5" height="48" fill="#008000"/>
<rect x="954" y="237" width="3" height="46" fill="#008080"/>
<rect x="963" y="253" width="1" height="34" fill="#ff0000"/>
<rect x="961" y="264" width="5" height="20" fill="#ff0000"/>
<rect x="962" y="265" width="3" height="18" fill="#fff"/>
<rect x="971" y="231" width="1" height="36" fill="#ff0000"/>
<rect x="969" y="234" width="5" height="23" fill="#ff0000"/>
<rect x="970" y="235" width="3" height="21" fill="#fff"/>
<rect x="979" y="224" width="1" height="57" fill="#008000"/>
<rect x="977" y="234" width="5" height="35" fill="#008000"/>
<rect x="978" y="235" width="3" height="33" fill="#008080"/>
<rect x="987" y="245" width="1" height="55" fill="#008000"/>
<rect x="985" y="268" width="5" height="9" fill="#008000"/>
<rect x="986" y="269" width="3" height="7" fill="#008080"/>
<rect x="995" y="245" width="1" height="92" fill="#008000"/>
<rect x="993" y="277" width="5" height="20" fill="#008000"/>
<rect x="994" y="278" width="3" height="18" fill="#008080"/>
<rect x="1003" y="265" width="1" height="63" fill="#ff0000"/>
<rect x="1001" y="293" width="5" height="5" fill="#ff0000"/>
<rect x="1002" y="294" width="3" height="3" fill="#fff"/>
<rect x="1011" y="283" width="1" height="129" fill="#008000"/>
<rect x="1009" y="294" width="5" height="96" fill="#008000"/>
<rect x="1010" y="295" width="3" height="94" fill="#008080"/>
<rect x="1019" y="370" width="1" height="34" fill="#008000"/>
<rect x="1017" y="388" width="5" height="7" fill="#008000"/>
<rect x="1018" y="389" width="3" height="5" fill="#008080"/>
<rect x="1027" y="327" width="1" height="93" fill="#ff0000"/>
<rect x="1025" y="344" width="5" height="51" fill="#ff0000"/>
<rect x="1026" y="345" width="3" height="49" fill="#fff"/>
<rect x="1035" y="309" width="1" height="52" fill="#ff0000"/>
<rect x="1033" y="322" width="5" height="23" fill="#ff0000"/>
<rect x="1034" y="323" width="3" height="21" fill="#fff"/>
<rect x="1043" y="249" width="1" height="75" fill="#ff0000"/>
<rect x="1041" y="258" width="5" height="62" fill="#ff0000"/>
<rect x="1042" y="259" width="3" height="60" fill="#fff"/>
<rect x="1051" y="213" width="1" height="76" fill="#ff0000"/>
<rect x="1049" y="241" width="5" height="18" fill="#ff0000"/>
<rect x="1050" y="242" width="3" height="16" fill="#fff"/>
<rect x="1059" y="218" width="1" height="36" fill="#ff0000"/>
<rect x="1057" y="229" width="5" height="14" fill="#ff0000"/>
<rect x="1058" y="230" width="3" height="12" fill="#fff"/>
<rect x="1067" y="226" width="1" height="23" fill="#008000"/>
<rect x="1065" y="229" width="5" height="15" fill="#008000"/>
<rect x="1066" y="230" width="3" height="13" fill="#008080"/>
<rect x="1075" y="244" width="1" height="23" fill="#008000"/>
<rect x="1073" y="245" width="5" height="21" fill="#008000"/>
<rect x="1074" y="246" width="3" height="19" fill="#008080"/>
</g>
</g>
<g shape-rendering="crispEdges">
<polyline points="2.5,633.4 11.5,618.9 19.5,622.9 27.5,626.8 35.5,654.6 43.5,689.3 51.5,739.8 59.5,745.4 67.5,745.4 75.5,729.9 83.5,738.8 91.5,740.2 99.5,766.6 107.5,716.0 115.5,696.2 123.5,652.6 131.5,641.7 139.5,635.2 147.5,634.2 155.5,638.3 163.5,630.8 171.5,625.9 179.5,642.7 187.5,657.6 195.5,675.4 203.5,724.0 211.5,774.5 219.5,791.3 227.5,798.3 235.5,772.5 243.5,738.8 251.5,690.3 259.5,650.2 267.5,660.0 275.5,669.5 283.5,666.5 291.5,660.5 299.5,639.7 307.5,634.2 315.5,623.3 323.5,625.3 331.5,639.7 339.5,654.6 347.5,675.4 355.5,709.1 363.5,742.2 371.5,734.9 379.5,689.3 387.5,659.5 395.5,644.7 403.5,664.5 411.5,693.2 419.5,714.0 427.5,730.9 435.5,746.7 443.5,761.6 451.5,747.7 459.5,726.9 467.5,707.1 475.5,688.3 483.5,669.5 491.5,655.6 499.5,635.4 507.5,669.1 515.5,675.4 523.5,686.3 531.5,685.3 539.5,733.0 547.5,760.0 555.5,779.4 563.5,756.6 571.5,741.8 579.5,717.0 587.5,709.1 595.5,702.2 603.5,697.2 611.5,681.3 619.5,665.5 627.5,674.4 635.5,721.0 643.5,765.6 651.5,785.4 659.5,778.4 667.5,777.5 675.5,776.5 683.5,786.4 691.5,773.5 699.5,757.6 707.5,746.7 715.5,730.9 723.5,693.2 731.5,661.5 739.5,663.5 747.5,665.1 755.5,651.6 763.5,650.2 771.5,651.6 779.5,659.1 787.5,639.7 795.5,631.4 803.5,651.6 811.5,664.5 819.5,682.3 827.5,687.3 835.5,697.2 843.5,709.1 851.5,680.4 859.5,673.4 867.5,672.4 875.5,676.4 883.5,699.2 891.5,717.0 899.5,720.6 907.5,704.1 915.5,688.3 923.5,702.5 931.5,699.2 939.5,685.3 947.5,675.4 955.5,707.1 963.5,738.8 971.5,743.4 979.5,742.2 987.5,739.2 995.5,751.3 1003.5,740.4 1011.5,757.6 1019.5,773.5 1027.5,765.6 1035.5,733.9 1043.5,677.4 1051.5,646.7 1059.5,632.2 1067.5,640.7 1074.5,652.9" fill="none" stroke="#20b2aa" stroke-width="1" />
<path d="M3 668h1v1h-1zM3 667h1v1h-1zM4 666h1v1h-1zM5 662h1v1h-1zM5 661h1v1h-1zM5 660h1v1h-1zM6 656h1v1h-1zM6 655h1v1h-1zM7 654h1v1h-1zM8 650h1v1h-1zM8 649h1v1h-1zM8 648h1v1h-1zM9 644h1v1h-1zM10 643h1v1h-1zM10 642h1v1h-1zM11 638h1v1h-1zM12 637h1v1h-1zM12 636h1v1h-1zM14 632h1v1h-1zM15 631h1v1h-1zM16 630h1v1h-1zM18 626h1v1h-1zM18 625h1v1h-1zM19 624h1v1h-1zM23 623h1v1h-1zM24 623h1v1h-1zM25 622h1v1h-1zM28 624h1v1h-1zM29 625h1v1h-1zM30 626h1v1h-1zM32 630h1v1h-1zM33 631h1v1h-1zM34 632h1v1h-1zM36 636h1v1h-1zM36 637h1v1h-1zM36 638h1v1h-1zM38 642h1v1h-1zM38 643h1v1h-1zM39 644h1v1h-1zM40 648h1v1h-1zM40 649h1v1h-1zM41 650h1v1h-1zM42 654h1v1h-1zM43 655h1v1h-1zM43 656h1v1h-1zM44 660h1v1h-1zM44 661h1v1h-1zM44 662h1v1h-1zM45 666h1v1h-1zM45 667h1v1h-1zM46 668h1v1h-1zM46 672h1v1h-1zM47 673h1v1h-1zM47 674h1v1h-1zM48 678h1v1h-1zM48 679h1v1h-1zM48 680h1v1h-1zM49 684h1v1h-1zM49 685h1v1h-1zM49 686h1v1h-1zM50 690h1v1h-1zM50 691h1v1h-1zM51 692h1v1h-1zM52 696h1v1h-1zM52 697h1v1h-1zM52 698h1v1h-1zM53 702h1v1h-1zM53 703h1v1h-1zM54 704h1v1h-1zM55 708h1v1h-1zM55 709h1v1h-1zM55 710h1v1h-1zM56 714h1v1h-1zM57 715h1v1h-1zM57 716h1v1h-1zM58 720h1v1h-1zM58 721h1v1h-1zM58 722h1v1h-1zM60 726h1v1h-1zM60 727h1v1h-1zM61 728h1v1h-1zM62 732h1v1h-1zM63 733h1v1h-1zM63 734h1v1h-1zM65 738h1v1h-1zM65 739h1v1h-1zM66 740h1v1h-1zM68 743h1v1h-1zM69 742h1v1h-1zM70 742h1v1h-1zM74 740h1v1h-1zM75 740h1v1h-1zM76 740h1v1h-1zM80 739h1v1h-1zM81 738h1v1h-1zM82 738h1v1h-1zM86 737h1v1h-1zM87 737h1v1h-1zM88 737h1v1h-1zM92 737h1v1h-1zM92 738h1v1h-1zM93 739h1v1h-1zM96 743h1v1h-1zM96 744h1v1h-1zM97 745h1v1h-1zM100 747h1v1h-1zM101 746h1v1h-1zM102 745h1v1h-1zM106 741h1v1h-1zM107 740h1v1h-1zM108 739h1v1h-1zM110 735h1v1h-1zM110 734h1v1h-1zM111 733h1v1h-1zM113 729h1v1h-1zM114 728h1v1h-1zM114 727h1v1h-1zM116 723h1v1h-1zM116 722h1v1h-1zM116 721h1v1h-1zM117 717h1v1h-1zM117 716h1v1h-1zM117 715h1v1h-1zM118 711h1v1h-1zM118 710h1v1h-1zM119 709h1v1h-1zM119 705h1v1h-1zM120 704h1v1h-1zM120 703h1v1h-1zM121 699h1v1h-1zM121 698h1v1h-1zM121 697h1v1h-1zM122 693h1v1h-1zM122 692h1v1h-1zM122 691h1v1h-1zM123 687h1v1h-1zM124 686h1v1h-1zM124 685h1v1h-1zM125 681h1v1h-1zM126 680h1v1h-1zM126 679h1v1h-1zM127 675h1v1h-1zM127 674h1v1h-1zM128 673h1v1h-1zM129 669h1v1h-1zM129 668h1v1h-1zM130 667h1v1h-1zM131 663h1v1h-1zM131 662h1v1h-1zM132 661h1v1h-1zM133 657h1v1h-1zM134 656h1v1h-1zM134 655h1v1h-1zM136 651h1v1h-1zM136 650h1v1h-1zM137 649h1v1h-1zM138 645h1v1h-1zM139 644h1v1h-1zM139 643h1v1h-1zM143 640h1v1h-1zM144 639h1v1h-1zM145 639h1v1h-1zM149 637h1v1h-1zM150 636h1v1h-1zM151 636h1v1h-1zM155 635h1v1h-1zM156 635h1v1h-1zM157 635h1v1h-1zM161 634h1v1h-1zM162 634h1v1h-1zM163 634h1v1h-1zM167 632h1v1h-1zM168 632h1v1h-1zM169 632h1v1h-1zM173 631h1v1h-1zM174 632h1v1h-1zM175 632h1v1h-1zM179 633h1v1h-1zM180 634h1v1h-1zM181 635h1v1h-1zM184 639h1v1h-1zM185 640h1v1h-1zM186 641h1v1h-1zM189 645h1v1h-1zM189 646h1v1h-1zM189 647h1v1h-1zM191 651h1v1h-1zM192 652h1v1h-1zM193 653h1v1h-1zM195 657h1v1h-1zM195 658h1v1h-1zM195 659h1v1h-1zM196 663h1v1h-1zM197 664h1v1h-1zM197 665h1v1h-1zM198 669h1v1h-1zM199 670h1v1h-1zM199 671h1v1h-1zM200 675h1v1h-1zM200 676h1v1h-1zM201 677h1v1h-1zM202 681h1v1h-1zM202 682h1v1h-1zM202 683h1v1h-1zM203 687h1v1h-1zM204 688h1v1h-1zM204 689h1v1h-1zM205 693h1v1h-1zM205 694h1v1h-1zM205 695h1v1h-1zM206 699h1v1h-1zM206 700h1v1h-1zM206 701h1v1h-1zM207 705h1v1h-1zM207 706h1v1h-1zM208 707h1v1h-1zM208 711h1v1h-1zM209 712h1v1h-1zM209 713h1v1h-1zM210 717h1v1h-1zM210 718h1v1h-1zM210 719h1v1h-1zM211 723h1v1h-1zM211 724h1v1h-1zM211 725h1v1h-1zM212 729h1v1h-1zM212 730h1v1h-1zM212 731h1v1h-1zM213 735h1v1h-1zM213 736h1v1h-1zM214 737h1v1h-1zM214 741h1v1h-1zM215 742h1v1h-1zM215 743h1v1h-1zM216 747h1v1h-1zM216 748h1v1h-1zM216 749h1v1h-1zM217 753h1v1h-1zM217 754h1v1h-1zM217 755h1v1h-1zM218 759h1v1h-1zM218 760h1v1h-1zM219 761h1v1h-1zM220 765h1v1h-1zM220 766h1v1h-1zM220 767h1v1h-1zM222 771h1v1h-1zM222 772h1v1h-1zM222 773h1v1h-1zM223 777h1v1h-1zM224 778h1v1h-1zM224 779h1v1h-1zM225 783h1v1h-1zM226 784h1v1h-1zM226 785h1v1h-1zM228 788h1v1h-1zM229 788h1v1h-1zM230 788h1v1h-1zM234 787h1v1h-1zM235 787h1v1h-1zM235 786h1v1h-1zM237 782h1v1h-1zM238 781h1v1h-1zM238 780h1v1h-1zM240 776h1v1h-1zM240 775h1v1h-1zM241 774h1v1h-1zM243 770h1v1h-1zM243 769h1v1h-1zM243 768h1v1h-1zM244 764h1v1h-1zM244 763h1v1h-1zM245 762h1v1h-1zM245 758h1v1h-1zM246 757h1v1h-1zM246 756h1v1h-1zM247 752h1v1h-1zM247 751h1v1h-1zM247 750h1v1h-1zM248 746h1v1h-1zM248 745h1v1h-1zM249 744h1v1h-1zM249 740h1v1h-1zM250 739h1v1h-1zM250 738h1v1h-1zM251 734h1v1h-1zM251 733h1v1h-1zM251 732h1v1h-1zM252 728h1v1h-1zM252 727h1v1h-1zM252 726h1v1h-1zM253 722h1v1h-1zM253 721h1v1h-1zM254 720h1v1h-1zM254 716h1v1h-1zM255 715h1v1h-1zM255 714h1v1h-1zM256 710h1v1h-1zM256 709h1v1h-1zM256 708h1v1h-1zM257 704h1v1h-1zM257 703h1v1h-1zM257 702h1v1h-1zM258 698h1v1h-1zM258 697h1v1h-1zM258 696h1v1h-1zM259 692h1v1h-1zM260 691h1v1h-1zM260 690h1v1h-1zM261 686h1v1h-1zM261 685h1v1h-1zM262 684h1v1h-1zM263 680h1v1h-1zM263 679h1v1h-1zM263 678h1v1h-1zM265 674h1v1h-1zM265 673h1v1h-1zM265 672h1v1h-1zM266 668h1v1h-1zM267 667h1v1h-1zM267 666h1v1h-1zM271 662h1v1h-1zM272 662h1v1h-1zM273 661h1v1h-1zM277 661h1v1h-1zM278 661h1v1h-1zM279 662h1v1h-1zM283 665h1v1h-1zM284 665h1v1h-1zM285 665h1v1h-1zM289 665h1v1h-1zM290 665h1v1h-1zM291 665h1v1h-1zM294 661h1v1h-1zM295 660h1v1h-1zM296 659h1v1h-1zM299 655h1v1h-1zM300 654h1v1h-1zM300 653h1v1h-1zM303 649h1v1h-1zM304 648h1v1h-1zM305 647h1v1h-1zM308 643h1v1h-1zM308 642h1v1h-1zM309 641h1v1h-1zM312 637h1v1h-1zM312 636h1v1h-1zM313 635h1v1h-1zM316 631h1v1h-1zM317 631h1v1h-1zM318 630h1v1h-1zM322 628h1v1h-1zM323 627h1v1h-1zM324 627h1v1h-1zM328 628h1v1h-1zM329 629h1v1h-1zM330 629h1v1h-1zM333 632h1v1h-1zM334 633h1v1h-1zM335 634h1v1h-1zM338 638h1v1h-1zM339 639h1v1h-1zM339 640h1v1h-1zM341 644h1v1h-1zM342 645h1v1h-1zM342 646h1v1h-1zM344 650h1v1h-1zM345 651h1v1h-1zM345 652h1v1h-1zM347 656h1v1h-1zM347 657h1v1h-1zM348 658h1v1h-1zM349 662h1v1h-1zM349 663h1v1h-1zM350 664h1v1h-1zM351 668h1v1h-1zM352 669h1v1h-1zM352 670h1v1h-1zM353 674h1v1h-1zM354 675h1v1h-1zM354 676h1v1h-1zM355 680h1v1h-1zM356 681h1v1h-1zM356 682h1v1h-1zM357 686h1v1h-1zM357 687h1v1h-1zM357 688h1v1h-1zM359 692h1v1h-1zM359 693h1v1h-1zM359 694h1v1h-1zM360 698h1v1h-1zM361 699h1v1h-1zM361 700h1v1h-1zM362 704h1v1h-1zM362 705h1v1h-1zM362 706h1v1h-1zM364 710h1v1h-1zM364 711h1v1h-1zM365 712h1v1h-1zM366 716h1v1h-1zM367 717h1v1h-1zM367 718h1v1h-1zM369 722h1v1h-1zM369 723h1v1h-1zM369 724h1v1h-1zM371 728h1v1h-1zM372 727h1v1h-1zM373 726h1v1h-1zM377 724h1v1h-1zM378 723h1v1h-1zM379 722h1v1h-1zM380 718h1v1h-1zM380 717h1v1h-1zM381 716h1v1h-1zM382 712h1v1h-1zM382 711h1v1h-1zM382 710h1v1h-1zM384 706h1v1h-1zM384 705h1v1h-1zM384 704h1v1h-1zM385 700h1v1h-1zM386 699h1v1h-1zM386 698h1v1h-1zM387 694h1v1h-1zM387 693h1v1h-1zM388 692h1v1h-1zM389 688h1v1h-1zM389 687h1v1h-1zM389 686h1v1h-1zM390 682h1v1h-1zM390 681h1v1h-1zM391 680h1v1h-1zM392 676h1v1h-1zM392 675h1v1h-1zM392 674h1v1h-1zM393 670h1v1h-1zM394 669h1v1h-1zM394 668h1v1h-1zM395 664h1v1h-1zM396 663h1v1h-1zM397 662h1v1h-1zM401 658h1v1h-1zM402 657h1v1h-1zM403 656h1v1h-1zM406 660h1v1h-1zM407 661h1v1h-1zM407 662h1v1h-1zM410 666h1v1h-1zM411 667h1v1h-1zM411 668h1v1h-1zM413 672h1v1h-1zM413 673h1v1h-1zM413 674h1v1h-1zM415 678h1v1h-1zM415 679h1v1h-1zM416 680h1v1h-1zM417 684h1v1h-1zM417 685h1v1h-1zM418 686h1v1h-1zM419 690h1v1h-1zM419 691h1v1h-1zM420 692h1v1h-1zM421 696h1v1h-1zM422 697h1v1h-1zM422 698h1v1h-1zM423 702h1v1h-1zM424 703h1v1h-1zM424 704h1v1h-1zM426 708h1v1h-1zM426 709h1v1h-1zM426 710h1v1h-1zM428 714h1v1h-1zM428 715h1v1h-1zM429 716h1v1h-1zM431 720h1v1h-1zM431 721h1v1h-1zM431 722h1v1h-1zM433 726h1v1h-1zM434 727h1v1h-1zM434 728h1v1h-1zM436 732h1v1h-1zM437 733h1v1h-1zM437 734h1v1h-1zM439 738h1v1h-1zM439 739h1v1h-1zM440 740h1v1h-1zM442 744h1v1h-1zM443 745h1v1h-1zM443 746h1v1h-1zM447 749h1v1h-1zM448 750h1v1h-1zM449 750h1v1h-1zM453 750h1v1h-1zM454 749h1v1h-1zM455 748h1v1h-1zM459 745h1v1h-1zM459 744h1v1h-1zM460 743h1v1h-1zM462 739h1v1h-1zM462 738h1v1h-1zM463 737h1v1h-1zM464 733h1v1h-1zM465 732h1v1h-1zM465 731h1v1h-1zM467 727h1v1h-1zM467 726h1v1h-1zM468 725h1v1h-1zM469 721h1v1h-1zM470 720h1v1h-1zM470 719h1v1h-1zM472 715h1v1h-1zM472 714h1v1h-1zM473 713h1v1h-1zM474 709h1v1h-1zM475 708h1v1h-1zM475 707h1v1h-1zM477 703h1v1h-1zM477 702h1v1h-1zM478 701h1v1h-1zM479 697h1v1h-1zM480 696h1v1h-1zM480 695h1v1h-1zM482 691h1v1h-1zM482 690h1v1h-1zM483 689h1v1h-1zM484 685h1v1h-1zM485 684h1v1h-1zM485 683h1v1h-1zM487 679h1v1h-1zM488 678h1v1h-1zM488 677h1v1h-1zM490 673h1v1h-1zM491 672h1v1h-1zM491 671h1v1h-1zM493 667h1v1h-1zM493 666h1v1h-1zM494 665h1v1h-1zM495 661h1v1h-1zM496 660h1v1h-1zM496 659h1v1h-1zM498 655h1v1h-1zM499 654h1v1h-1zM499 653h1v1h-1zM503 653h1v1h-1zM504 653h1v1h-1zM505 653h1v1h-1zM509 655h1v1h-1zM510 655h1v1h-1zM511 656h1v1h-1zM515 659h1v1h-1zM515 660h1v1h-1zM516 661h1v1h-1zM518 665h1v1h-1zM518 666h1v1h-1zM519 667h1v1h-1zM521 671h1v1h-1zM521 672h1v1h-1zM522 673h1v1h-1zM524 677h1v1h-1zM525 678h1v1h-1zM526 678h1v1h-1zM530 681h1v1h-1zM531 682h1v1h-1zM531 683h1v1h-1zM533 687h1v1h-1zM534 688h1v1h-1zM534 689h1v1h-1zM536 693h1v1h-1zM536 694h1v1h-1zM536 695h1v1h-1zM538 699h1v1h-1zM539 700h1v1h-1zM539 701h1v1h-1zM540 705h1v1h-1zM541 706h1v1h-1zM541 707h1v1h-1zM542 711h1v1h-1zM543 712h1v1h-1zM543 713h1v1h-1zM544 717h1v1h-1zM544 718h1v1h-1zM545 719h1v1h-1zM546 723h1v1h-1zM546 724h1v1h-1zM547 725h1v1h-1zM548 729h1v1h-1zM548 730h1v1h-1zM548 731h1v1h-1zM549 735h1v1h-1zM550 736h1v1h-1zM550 737h1v1h-1zM551 741h1v1h-1zM551 742h1v1h-1zM551 743h1v1h-1zM552 747h1v1h-1zM553 748h1v1h-1zM553 749h1v1h-1zM554 753h1v1h-1zM554 754h1v1h-1zM554 755h1v1h-1zM557 759h1v1h-1zM558 760h1v1h-1zM559 761h1v1h-1zM563 765h1v1h-1zM564 764h1v1h-1zM565 763h1v1h-1zM569 761h1v1h-1zM570 760h1v1h-1zM571 759h1v1h-1zM573 755h1v1h-1zM573 754h1v1h-1zM573 753h1v1h-1zM575 749h1v1h-1zM575 748h1v1h-1zM576 747h1v1h-1zM577 743h1v1h-1zM577 742h1v1h-1zM578 741h1v1h-1zM579 737h1v1h-1zM580 736h1v1h-1zM581 735h1v1h-1zM583 731h1v1h-1zM583 730h1v1h-1zM583 729h1v1h-1zM585 725h1v1h-1zM586 724h1v1h-1zM587 723h1v1h-1zM589 719h1v1h-1zM589 718h1v1h-1zM590 717h1v1h-1zM593 713h1v1h-1zM593 712h1v1h-1zM594 711h1v1h-1zM597 707h1v1h-1zM598 706h1v1h-1zM599 705h1v1h-1zM603 702h1v1h-1zM604 701h1v1h-1zM605 700h1v1h-1zM608 696h1v1h-1zM609 695h1v1h-1zM610 694h1v1h-1zM613 690h1v1h-1zM614 689h1v1h-1zM614 688h1v1h-1zM617 684h1v1h-1zM618 683h1v1h-1zM618 682h1v1h-1zM622 678h1v1h-1zM623 677h1v1h-1zM624 676h1v1h-1zM628 674h1v1h-1zM628 675h1v1h-1zM629 676h1v1h-1zM631 680h1v1h-1zM632 681h1v1h-1zM633 682h1v1h-1zM635 686h1v1h-1zM635 687h1v1h-1zM635 688h1v1h-1zM636 692h1v1h-1zM637 693h1v1h-1zM637 694h1v1h-1zM638 698h1v1h-1zM638 699h1v1h-1zM638 700h1v1h-1zM639 704h1v1h-1zM639 705h1v1h-1zM640 706h1v1h-1zM641 710h1v1h-1zM641 711h1v1h-1zM641 712h1v1h-1zM642 716h1v1h-1zM642 717h1v1h-1zM643 718h1v1h-1zM643 722h1v1h-1zM644 723h1v1h-1zM644 724h1v1h-1zM645 728h1v1h-1zM645 729h1v1h-1zM645 730h1v1h-1zM646 734h1v1h-1zM646 735h1v1h-1zM646 736h1v1h-1zM647 740h1v1h-1zM648 741h1v1h-1zM648 742h1v1h-1zM649 746h1v1h-1zM649 747h1v1h-1zM649 748h1v1h-1zM650 752h1v1h-1zM650 753h1v1h-1zM650 754h1v1h-1zM651 758h1v1h-1zM652 759h1v1h-1zM652 760h1v1h-1zM654 764h1v1h-1zM654 765h1v1h-1zM655 766h1v1h-1zM656 770h1v1h-1zM657 771h1v1h-1zM657 772h1v1h-1zM659 776h1v1h-1zM660 776h1v1h-1zM661 777h1v1h-1zM665 779h1v1h-1zM666 780h1v1h-1zM667 780h1v1h-1zM671 778h1v1h-1zM672 778h1v1h-1zM673 778h1v1h-1zM677 778h1v1h-1zM678 778h1v1h-1zM679 779h1v1h-1zM683 780h1v1h-1zM684 780h1v1h-1zM685 780h1v1h-1zM689 778h1v1h-1zM690 778h1v1h-1zM691 778h1v1h-1zM695 775h1v1h-1zM696 774h1v1h-1zM697 774h1v1h-1zM700 770h1v1h-1zM701 769h1v1h-1zM701 768h1v1h-1zM704 764h1v1h-1zM705 763h1v1h-1zM705 762h1v1h-1zM708 758h1v1h-1zM708 757h1v1h-1zM709 756h1v1h-1zM711 752h1v1h-1zM712 751h1v1h-1zM712 750h1v1h-1zM714 746h1v1h-1zM715 745h1v1h-1zM715 744h1v1h-1zM717 740h1v1h-1zM717 739h1v1h-1zM718 738h1v1h-1zM719 734h1v1h-1zM719 733h1v1h-1zM720 732h1v1h-1zM721 728h1v1h-1zM722 727h1v1h-1zM722 726h1v1h-1zM723 722h1v1h-1zM724 721h1v1h-1zM724 720h1v1h-1zM725 716h1v1h-1zM725 715h1v1h-1zM726 714h1v1h-1zM727 710h1v1h-1zM727 709h1v1h-1zM727 708h1v1h-1zM728 704h1v1h-1zM729 703h1v1h-1zM729 702h1v1h-1zM730 698h1v1h-1zM730 697h1v1h-1zM731 696h1v1h-1zM732 692h1v1h-1zM732 691h1v1h-1zM733 690h1v1h-1zM734 686h1v1h-1zM734 685h1v1h-1zM735 684h1v1h-1zM736 680h1v1h-1zM737 679h1v1h-1zM737 678h1v1h-1zM738 674h1v1h-1zM739 673h1v1h-1zM739 672h1v1h-1zM743 668h1v1h-1zM743 667h1v1h-1zM744 666h1v1h-1zM748 663h1v1h-1zM749 662h1v1h-1zM750 662h1v1h-1zM754 660h1v1h-1zM755 660h1v1h-1zM756 659h1v1h-1zM760 657h1v1h-1zM761 656h1v1h-1zM762 656h1v1h-1zM766 653h1v1h-1zM767 653h1v1h-1zM768 653h1v1h-1zM772 651h1v1h-1zM773 651h1v1h-1zM774 652h1v1h-1zM778 653h1v1h-1zM779 653h1v1h-1zM780 653h1v1h-1zM784 651h1v1h-1zM785 651h1v1h-1zM786 650h1v1h-1zM790 647h1v1h-1zM791 646h1v1h-1zM792 646h1v1h-1zM796 643h1v1h-1zM797 642h1v1h-1zM798 642h1v1h-1zM802 640h1v1h-1zM803 640h1v1h-1zM804 641h1v1h-1zM807 645h1v1h-1zM808 646h1v1h-1zM809 647h1v1h-1zM812 651h1v1h-1zM812 652h1v1h-1zM813 653h1v1h-1zM815 657h1v1h-1zM815 658h1v1h-1zM816 659h1v1h-1zM818 663h1v1h-1zM818 664h1v1h-1zM819 665h1v1h-1zM821 669h1v1h-1zM822 670h1v1h-1zM822 671h1v1h-1zM825 675h1v1h-1zM826 676h1v1h-1zM826 677h1v1h-1zM829 681h1v1h-1zM830 682h1v1h-1zM831 683h1v1h-1zM834 687h1v1h-1zM835 688h1v1h-1zM836 689h1v1h-1zM839 693h1v1h-1zM840 694h1v1h-1zM841 695h1v1h-1zM845 697h1v1h-1zM846 696h1v1h-1zM847 696h1v1h-1zM851 695h1v1h-1zM852 694h1v1h-1zM853 693h1v1h-1zM857 689h1v1h-1zM858 688h1v1h-1zM859 687h1v1h-1zM862 683h1v1h-1zM862 682h1v1h-1zM863 681h1v1h-1zM866 677h1v1h-1zM866 676h1v1h-1zM867 675h1v1h-1zM871 675h1v1h-1zM872 674h1v1h-1zM873 674h1v1h-1zM877 676h1v1h-1zM878 677h1v1h-1zM879 678h1v1h-1zM883 682h1v1h-1zM884 683h1v1h-1zM884 684h1v1h-1zM886 688h1v1h-1zM887 689h1v1h-1zM887 690h1v1h-1zM889 694h1v1h-1zM890 695h1v1h-1zM890 696h1v1h-1zM893 700h1v1h-1zM893 701h1v1h-1zM894 702h1v1h-1zM896 706h1v1h-1zM896 707h1v1h-1zM897 708h1v1h-1zM899 712h1v1h-1zM900 712h1v1h-1zM901 712h1v1h-1zM905 713h1v1h-1zM906 713h1v1h-1zM907 713h1v1h-1zM911 709h1v1h-1zM911 708h1v1h-1zM912 707h1v1h-1zM916 703h1v1h-1zM917 702h1v1h-1zM918 702h1v1h-1zM922 699h1v1h-1zM923 698h1v1h-1zM924 698h1v1h-1zM928 697h1v1h-1zM929 696h1v1h-1zM930 696h1v1h-1zM934 696h1v1h-1zM935 696h1v1h-1zM936 695h1v1h-1zM940 694h1v1h-1zM941 693h1v1h-1zM942 692h1v1h-1zM945 688h1v1h-1zM946 687h1v1h-1zM947 686h1v1h-1zM951 688h1v1h-1zM952 688h1v1h-1zM953 688h1v1h-1zM956 691h1v1h-1zM956 692h1v1h-1zM957 693h1v1h-1zM959 697h1v1h-1zM959 698h1v1h-1zM959 699h1v1h-1zM961 703h1v1h-1zM962 704h1v1h-1zM962 705h1v1h-1zM964 709h1v1h-1zM964 710h1v1h-1zM964 711h1v1h-1zM966 715h1v1h-1zM966 716h1v1h-1zM967 717h1v1h-1zM968 721h1v1h-1zM968 722h1v1h-1zM969 723h1v1h-1zM970 727h1v1h-1zM971 728h1v1h-1zM971 729h1v1h-1zM974 733h1v1h-1zM974 734h1v1h-1zM975 735h1v1h-1zM978 739h1v1h-1zM978 740h1v1h-1zM979 741h1v1h-1zM983 741h1v1h-1zM984 741h1v1h-1zM985 741h1v1h-1zM989 742h1v1h-1zM990 742h1v1h-1zM991 743h1v1h-1zM995 744h1v1h-1zM996 744h1v1h-1zM997 744h1v1h-1zM1001 743h1v1h-1zM1002 743h1v1h-1zM1003 743h1v1h-1zM1007 746h1v1h-1zM1008 747h1v1h-1zM1009 747h1v1h-1zM1013 751h1v1h-1zM1014 752h1v1h-1zM1015 753h1v1h-1zM1019 757h1v1h-1zM1020 758h1v1h-1zM1021 759h1v1h-1zM1025 763h1v1h-1zM1026 764h1v1h-1zM1027 765h1v1h-1zM1031 761h1v1h-1zM1032 760h1v1h-1zM1033 759h1v1h-1zM1035 755h1v1h-1zM1036 754h1v1h-1zM1036 753h1v1h-1zM1037 749h1v1h-1zM1037 748h1v1h-1zM1037 747h1v1h-1zM1039 743h1v1h-1zM1039 742h1v1h-1zM1039 741h1v1h-1zM1040 737h1v1h-1zM1040 736h1v1h-1zM1041 735h1v1h-1zM1041 731h1v1h-1zM1042 730h1v1h-1zM1042 729h1v1h-1zM1043 725h1v1h-1zM1043 724h1v1h-1zM1043 723h1v1h-1zM1044 719h1v1h-1zM1044 718h1v1h-1zM1045 717h1v1h-1zM1045 713h1v1h-1zM1046 712h1v1h-1zM1046 711h1v1h-1zM1047 707h1v1h-1zM1047 706h1v1h-1zM1047 705h1v1h-1zM1048 701h1v1h-1zM1048 700h1v1h-1zM1048 699h1v1h-1zM1049 695h1v1h-1zM1049 694h1v1h-1zM1050 693h1v1h-1zM1050 689h1v1h-1zM1051 688h1v1h-1zM1051 687h1v1h-1zM1052 683h1v1h-1zM1052 682h1v1h-1zM1052 681h1v1h-1zM1053 677h1v1h-1zM1053 676h1v1h-1zM1054 675h1v1h-1zM1055 671h1v1h-1zM1055 670h1v1h-1zM1055 669h1v1h-1zM1056 665h1v1h-1zM1056 664h1v1h-1zM1056 663h1v1h-1zM1057 659h1v1h-1zM1058 658h1v1h-1zM1058 657h1v1h-1zM1059 653h1v1h-1zM1059 652h1v1h-1zM1060 651h1v1h-1zM1062 647h1v1h-1zM1063 646h1v1h-1zM1063 645h1v1h-1zM1066 641h1v1h-1zM1066 640h1v1h-1zM1067 639h1v1h-1zM1071 641h1v1h-1zM1072 641h1v1h-1zM1073 641h1v1h-1z" fill="#ff0000"/>
</g>
<g shape-rendering="crispEdges">
<polyline points="2.5,864.0 11.5,860.3 19.5,863.3 27.5,859.4 35.5,858.4 43.5,864.6 51.5,874.4 59.5,872.0 67.5,876.0 75.5,879.3 83.5,891.4 91.5,889.4 99.5,900.4 107.5,886.3 115.5,887.5 123.5,881.4 131.5,872.0 139.5,876.3 147.5,872.4 155.5,871.1 163.5,866.6 171.5,865.4 179.5,871.5 187.5,869.3 195.5,872.4 203.5,907.6 211.5,920.3 219.5,920.3 227.5,921.3 235.5,902.5 243.5,902.5 251.5,903.7 259.5,904.5 267.5,905.2 275.5,904.2 283.5,894.3 291.5,893.1 299.5,889.0 307.5,875.0 315.5,869.3 323.5,871.1 331.5,879.3 339.5,875.4 347.5,874.6 355.5,887.3 363.5,882.2 371.5,880.2 379.5,873.4 387.5,868.5 395.5,869.7 403.5,883.2 411.5,884.3 419.5,881.4 427.5,895.3 435.5,896.6 443.5,898.4 451.5,898.4 459.5,892.5 467.5,889.2 475.5,889.2 483.5,883.8 491.5,880.2 499.5,875.6 507.5,890.4 515.5,878.3 523.5,877.3 531.5,890.0 539.5,902.3 547.5,894.3 555.5,920.9 563.5,915.4 571.5,908.4 579.5,909.3 587.5,911.3 595.5,911.3 603.5,910.1 611.5,909.1 619.5,903.3 627.5,917.3 635.5,926.7 643.5,931.0 651.5,937.1 659.5,929.3 667.5,932.0 675.5,936.3 683.5,939.4 691.5,933.6 699.5,939.2 707.5,940.4 715.5,930.0 723.5,914.4 731.5,918.3 739.5,919.3 747.5,907.6 755.5,895.5 763.5,901.1 771.5,893.1 779.5,895.3 787.5,887.1 795.5,874.4 803.5,886.1 811.5,880.2 819.5,882.2 827.5,886.3 835.5,881.4 843.5,885.3 851.5,882.4 859.5,881.2 867.5,883.2 875.5,882.2 883.5,894.1 891.5,897.4 899.5,889.0 907.5,890.6 915.5,894.9 923.5,898.8 931.5,888.3 939.5,887.1 947.5,890.4 955.5,900.2 963.5,896.5 971.5,889.2 979.5,897.4 987.5,899.2 995.5,903.3 1003.5,903.3 1011.5,920.3 1019.5,921.3 1027.5,908.2 1035.5,903.3 1043.5,890.6 1051.5,887.1 1059.5,885.3 1067.5,888.3 1074.5,892.0" fill="none" stroke="#1e90ff" stroke-width="1" />
</g>
<text class="ax" x="1373" y="62">2963.20</text>
<text class="ax" x="1373" y="127">2948.80</text>
<text class="ax" x="1373" y="192">2934.60</text>
<text class="ax" x="1373" y="257">2920.20</text>
<text class="ax" x="1373" y="322">2906.00</text>
<text class="ax" x="1373" y="387">2891.60</text>
<text class="ax" x="1373" y="452">2877.40</text>
<text class="ax" x="1373" y="517">2863.00</text>
<text class="ax" x="1373" y="582">2848.80</text>
<rect x="1368" y="257" width="62" height="17" fill="#000" shape-rendering="crispEdges"/>
<text class="ax" x="1373" y="271" style="fill:#fff">2917.15</text>
<text class="ax" x="1370.7" y="629">100</text>
<text class="ax" x="1369" y="659">80</text>
<text class="ax" x="1369" y="774">20</text>
<text class="ax" x="1370" y="803">0</text>
<text class="ax" x="1370.7" y="825">100</text>
<text class="ax" x="1369" y="868">70</text>
<text class="ax" x="1369" y="937">30</text>
<text class="ax" x="1370" y="979">0</text>
<text x="7" y="631">Stoch(5,3,3) 78.6942 85.4782</text>
<text x="7" y="827"><tspan letter-spacing="-0.35">RSI(14)</tspan> 51.8722</text>
<text x="2.3" y="1001" letter-spacing="-0.3">10 Feb 2025</text>
<text x="130.3" y="1001" letter-spacing="-0.2">13 Feb 00:00</text>
<text x="258.3" y="1001" letter-spacing="-0.2">17 Feb 12:00</text>
<text x="386.3" y="1001" letter-spacing="-0.2">20 Feb 04:00</text>
<text x="514.3" y="1001" letter-spacing="-0.2">24 Feb 16:00</text>
<text x="642.3" y="1001" letter-spacing="-0.2">27 Feb 08:00</text>
<text x="770.3" y="1001" letter-spacing="-0.2">3 Mar 20:00</text>
<text x="898.3" y="1001" letter-spacing="-0.2">6 Mar 12:00</text>
<text x="1026.3" y="1001" letter-spacing="-0.05">11 Mar 00:00</text>
</svg></body></html>
